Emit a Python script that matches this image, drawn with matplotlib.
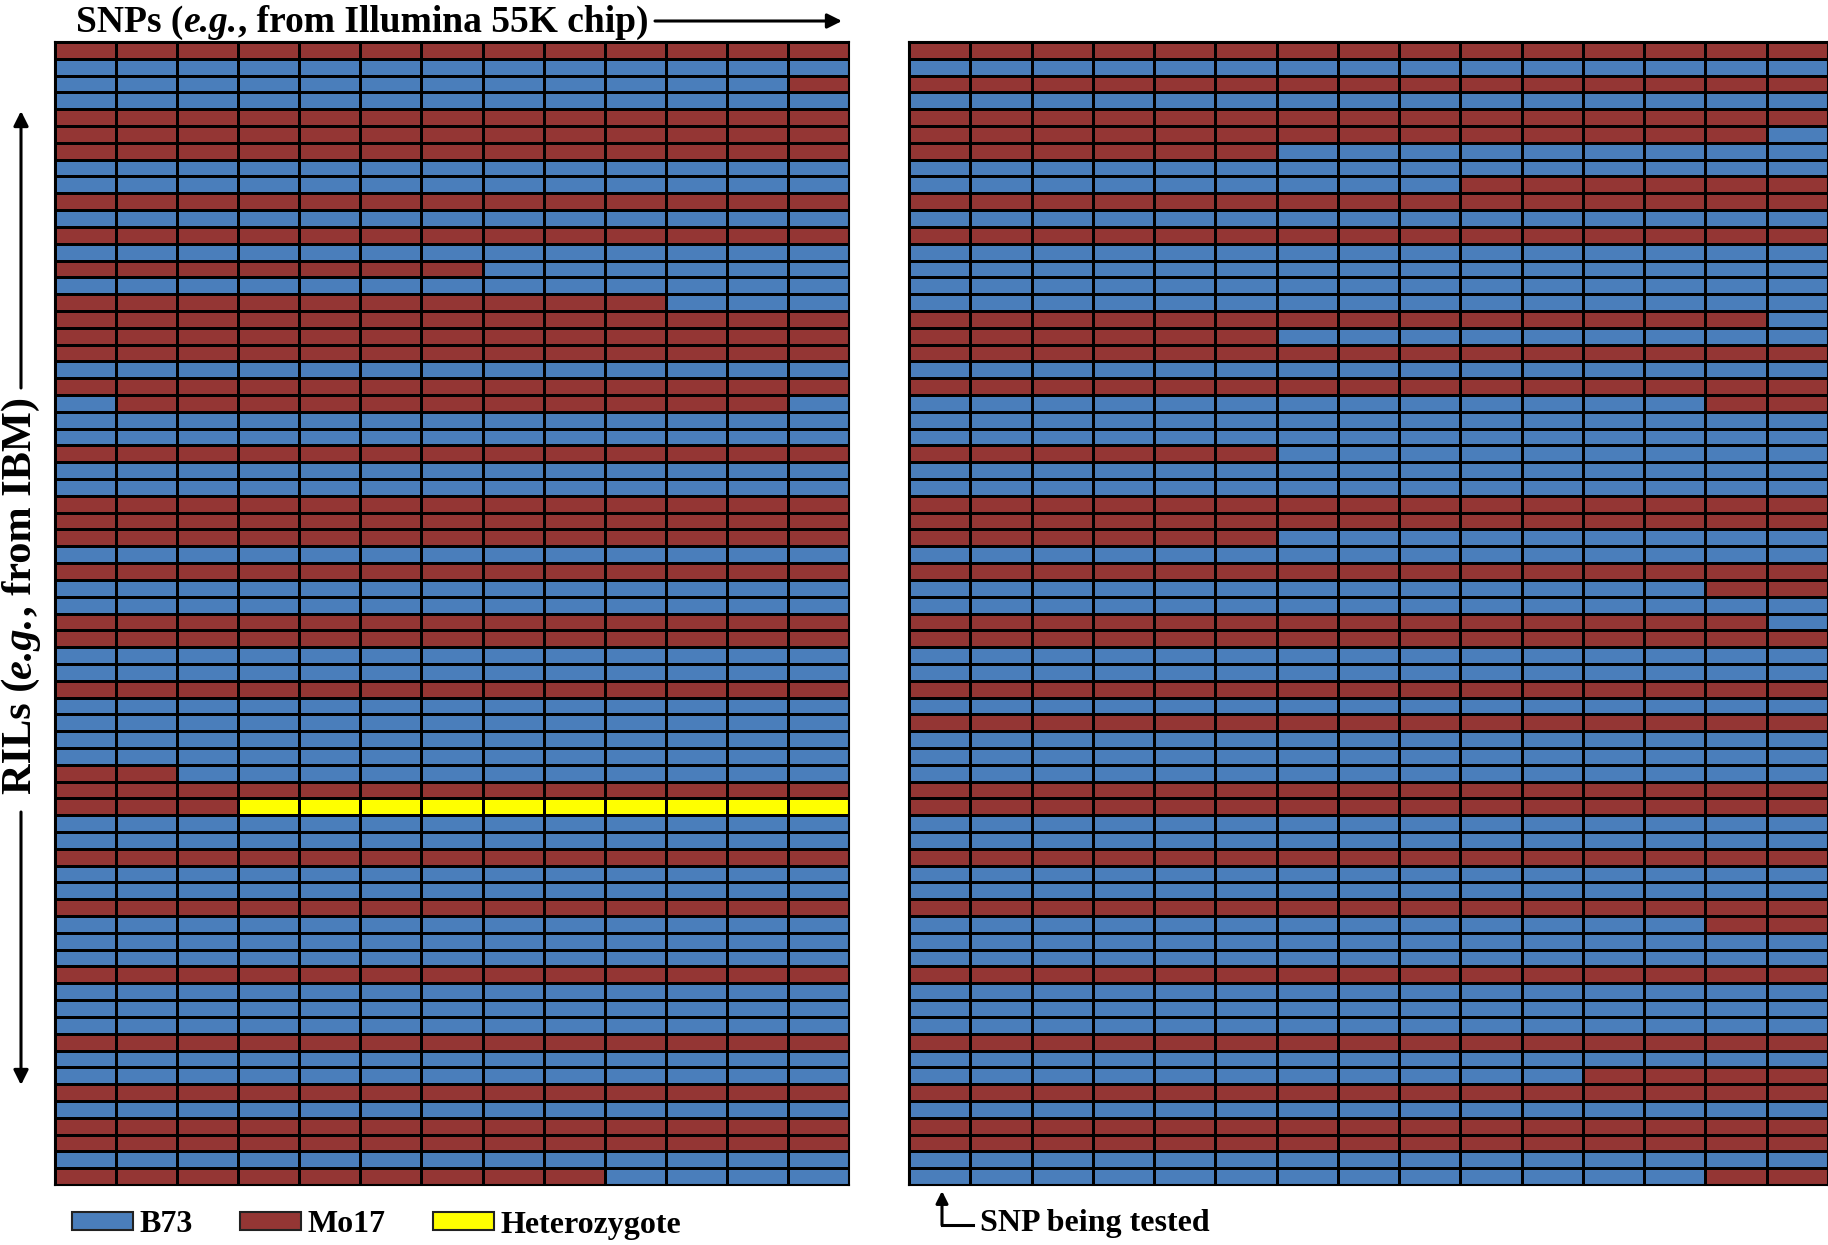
import numpy as np
import matplotlib
matplotlib.use("Agg")
import matplotlib.pyplot as plt
from matplotlib.colors import ListedColormap
from matplotlib.patches import Patch

plt.rcParams['font.family'] = ['Liberation Serif', 'DejaVu Serif']

# genotype calls, one string per RIL (row), one letter per SNP (column)
# B = B73, M = Mo17, H = heterozygote
left_rows = [
    "MMMMMMMMMMMMM", "BBBBBBBBBBBBB", "BBBBBBBBBBBBM", "BBBBBBBBBBBBB",
    "MMMMMMMMMMMMM", "MMMMMMMMMMMMM", "MMMMMMMMMMMMM", "BBBBBBBBBBBBB",
    "BBBBBBBBBBBBB", "MMMMMMMMMMMMM", "BBBBBBBBBBBBB", "MMMMMMMMMMMMM",
    "BBBBBBBBBBBBB", "MMMMMMMBBBBBB", "BBBBBBBBBBBBB", "MMMMMMMMMMBBB",
    "MMMMMMMMMMMMM", "MMMMMMMMMMMMM", "MMMMMMMMMMMMM", "BBBBBBBBBBBBB",
    "MMMMMMMMMMMMM", "BMMMMMMMMMMMB", "BBBBBBBBBBBBB", "BBBBBBBBBBBBB",
    "MMMMMMMMMMMMM", "BBBBBBBBBBBBB", "BBBBBBBBBBBBB", "MMMMMMMMMMMMM",
    "MMMMMMMMMMMMM", "MMMMMMMMMMMMM", "BBBBBBBBBBBBB", "MMMMMMMMMMMMM",
    "BBBBBBBBBBBBB", "BBBBBBBBBBBBB", "MMMMMMMMMMMMM", "MMMMMMMMMMMMM",
    "BBBBBBBBBBBBB", "BBBBBBBBBBBBB", "MMMMMMMMMMMMM", "BBBBBBBBBBBBB",
    "BBBBBBBBBBBBB", "BBBBBBBBBBBBB", "BBBBBBBBBBBBB", "MMBBBBBBBBBBB",
    "MMMMMMMMMMMMM", "MMMHHHHHHHHHH", "BBBBBBBBBBBBB", "BBBBBBBBBBBBB",
    "MMMMMMMMMMMMM", "BBBBBBBBBBBBB", "BBBBBBBBBBBBB", "MMMMMMMMMMMMM",
    "BBBBBBBBBBBBB", "BBBBBBBBBBBBB", "BBBBBBBBBBBBB", "MMMMMMMMMMMMM",
    "BBBBBBBBBBBBB", "BBBBBBBBBBBBB", "BBBBBBBBBBBBB", "MMMMMMMMMMMMM",
    "BBBBBBBBBBBBB", "BBBBBBBBBBBBB", "MMMMMMMMMMMMM", "BBBBBBBBBBBBB",
    "MMMMMMMMMMMMM", "MMMMMMMMMMMMM", "BBBBBBBBBBBBB", "MMMMMMMMMBBBB",
]

right_rows = [
    "MMMMMMMMMMMMMMM", "BBBBBBBBBBBBBBB", "MMMMMMMMMMMMMMM", "BBBBBBBBBBBBBBB",
    "MMMMMMMMMMMMMMM", "MMMMMMMMMMMMMMB", "MMMMMMBBBBBBBBB", "BBBBBBBBBBBBBBB",
    "BBBBBBBBBMMMMMM", "MMMMMMMMMMMMMMM", "BBBBBBBBBBBBBBB", "MMMMMMMMMMMMMMM",
    "BBBBBBBBBBBBBBB", "BBBBBBBBBBBBBBB", "BBBBBBBBBBBBBBB", "BBBBBBBBBBBBBBB",
    "MMMMMMMMMMMMMMB", "MMMMMMBBBBBBBBB", "MMMMMMMMMMMMMMM", "BBBBBBBBBBBBBBB",
    "MMMMMMMMMMMMMMM", "BBBBBBBBBBBBBMM", "BBBBBBBBBBBBBBB", "BBBBBBBBBBBBBBB",
    "MMMMMMBBBBBBBBB", "BBBBBBBBBBBBBBB", "BBBBBBBBBBBBBBB", "MMMMMMMMMMMMMMM",
    "MMMMMMMMMMMMMMM", "MMMMMMBBBBBBBBB", "BBBBBBBBBBBBBBB", "MMMMMMMMMMMMMMM",
    "BBBBBBBBBBBBBMM", "BBBBBBBBBBBBBBB", "MMMMMMMMMMMMMMB", "MMMMMMMMMMMMMMM",
    "BBBBBBBBBBBBBBB", "BBBBBBBBBBBBBBB", "MMMMMMMMMMMMMMM", "BBBBBBBBBBBBBBB",
    "MMMMMMMMMMMMMMM", "BBBBBBBBBBBBBBB", "BBBBBBBBBBBBBBB", "BBBBBBBBBBBBBBB",
    "MMMMMMMMMMMMMMM", "MMMMMMMMMMMMMMM", "BBBBBBBBBBBBBBB", "BBBBBBBBBBBBBBB",
    "MMMMMMMMMMMMMMM", "BBBBBBBBBBBBBBB", "BBBBBBBBBBBBBBB", "MMMMMMMMMMMMMMM",
    "BBBBBBBBBBBBBMM", "BBBBBBBBBBBBBBB", "BBBBBBBBBBBBBBB", "MMMMMMMMMMMMMMM",
    "BBBBBBBBBBBBBBB", "BBBBBBBBBBBBBBB", "BBBBBBBBBBBBBBB", "MMMMMMMMMMMMMMM",
    "BBBBBBBBBBBBBBB", "BBBBBBBBBBBMMMM", "MMMMMMMMMMMMMMM", "BBBBBBBBBBBBBBB",
    "MMMMMMMMMMMMMMM", "MMMMMMMMMMMMMMM", "BBBBBBBBBBBBBBB", "BBBBBBBBBBBBBMM",
]

codes = {"B": 0, "M": 1, "H": 2}
legend_labels = ["B73", "Mo17", "Heterozygote"]
colors = ["#4a7ebb", "#943634", "#ffff00"]

W, H = 1828, 1245
fig = plt.figure(figsize=(W / 100, H / 100), dpi=100)
cmap = ListedColormap(colors)


def draw_grid(rect, rows):
    data = np.array([[codes[c] for c in r] for r in rows])
    ax = fig.add_axes(rect)
    ax.pcolormesh(data, cmap=cmap, vmin=0, vmax=2, edgecolors="black", linewidth=0.9)
    ax.set_xlim(0, data.shape[1])
    ax.set_ylim(data.shape[0], 0)
    ax.set_xticks([])
    ax.set_yticks([])
    for s in ax.spines.values():
        s.set_linewidth(1.5)
    return ax


top, bottom = 42, 1185
draw_grid([55 / W, 1 - bottom / H, 794 / W, (bottom - top) / H], left_rows)
draw_grid([909 / W, 1 - bottom / H, 919 / W, (bottom - top) / H], right_rows)

# overlay for labels and arrows, in pixel units
deco = fig.add_axes([0, 0, 1, 1], zorder=-1)
deco.set_xlim(0, W)
deco.set_ylim(H, 0)
deco.axis("off")


def mixed_text(x, y, parts, size, vertical=False):
    # chain text pieces (normal / italic) one after the other
    if vertical:
        prev = deco.text(x, y, parts[0][0], fontsize=size, fontweight="bold", style=parts[0][1],
                         rotation=90, ha="center", va="bottom")
        for txt, st in parts[1:]:
            prev = deco.annotate(txt, xy=(0.5, 1), xycoords=prev, fontsize=size, fontweight="bold",
                                 style=st, rotation=90, ha="center", va="bottom")
    else:
        prev = deco.text(x, y, parts[0][0], fontsize=size, fontweight="bold", style=parts[0][1],
                         ha="left", va="center")
        for txt, st in parts[1:]:
            prev = deco.annotate(txt, xy=(1, 0), xycoords=prev, fontsize=size, fontweight="bold",
                                 style=st, ha="left", va="bottom")


arrow = dict(arrowstyle="-|>", color="black", lw=2.2, mutation_scale=22, shrinkA=0, shrinkB=0)

mixed_text(76, 23, [("SNPs (", "normal"), ("e.g.", "italic"),
                    (", from Illumina 55K chip)", "normal")], 27)
deco.annotate("", xy=(842, 21), xytext=(655, 21), arrowprops=arrow)

mixed_text(21, 794, [("RILs (", "normal"), ("e.g.", "italic"), (", from IBM)", "normal")],
           30.5, vertical=True)
deco.annotate("", xy=(21, 111), xytext=(21, 388), arrowprops=arrow)
deco.annotate("", xy=(21, 1085), xytext=(21, 812), arrowprops=arrow)

# SNP being tested marker
deco.annotate("", xy=(942, 1191), xytext=(942, 1225), arrowprops=dict(arrow, mutation_scale=18))
deco.plot([942, 973], [1225, 1225], color="black", lw=2.2)
deco.text(980, 1224, "SNP being tested", fontsize=23, fontweight="bold", ha="left", va="center")

handles = [Patch(facecolor=c, edgecolor="#222222", linewidth=1.5) for c in colors]
fig.legend(handles, legend_labels, loc="center left", bbox_to_anchor=(72 / W, 1 - 1225 / H),
           ncol=3, frameon=False, prop=dict(size=23, weight="bold"),
           handlelength=1.9, handleheight=0.47, handletextpad=0.2, columnspacing=1.5,
           borderaxespad=0, borderpad=0)

fig.savefig("out.png", dpi=100)
